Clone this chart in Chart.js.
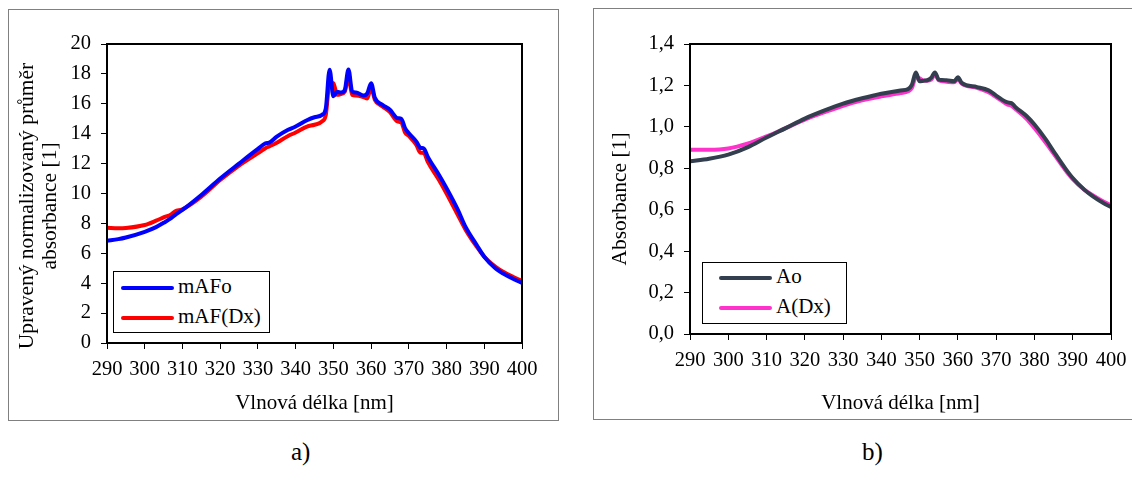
<!DOCTYPE html>
<html>
<head>
<meta charset="utf-8">
<script src="https://cdn.jsdelivr.net/npm/chart.js@4.4.1/dist/chart.umd.min.js"></script>
<style>
  html, body { margin:0; padding:0; background:#fff; width:1132px; height:492px; overflow:hidden; }
  body { position:relative; font-family:"Liberation Serif","Times New Roman",serif; }
  .frame { position:absolute; border:1px solid #808080; box-sizing:border-box; }
  .frame canvas { position:absolute; left:0; top:0; }
  .legend { position:absolute; border:1px solid #000; background:#fff; box-sizing:border-box; font-size:21px; color:#000; }
  .legend .sw { position:absolute; height:4px; border-radius:2px; }
  .legend .tx { position:absolute; white-space:nowrap; }
  .cap { position:absolute; font-size:25px; color:#000; }
</style>
</head>
<body>
<div class="frame" id="fa" style="left:8px;top:9px;width:551px;height:412px;"><canvas id="ca"></canvas></div>
<div class="frame" id="fb" style="left:593px;top:8px;width:560px;height:412px;"><canvas id="cb"></canvas></div>

<div class="legend" style="left:113px;top:271px;width:157px;height:62px;">
  <div class="sw" style="left:7px;top:14px;width:53px;background:#0000ff;"></div>
  <div class="tx" style="left:64px;top:3px;line-height:22px;">mAFo</div>
  <div class="sw" style="left:7px;top:44px;width:53px;background:#ff0000;"></div>
  <div class="tx" style="left:64px;top:33px;line-height:22px;">mAF(Dx)</div>
</div>
<div class="legend" style="left:702px;top:262px;width:145px;height:62px;">
  <div class="sw" style="left:16px;top:13px;width:53px;background:#333f4f;"></div>
  <div class="tx" style="left:73px;top:2px;line-height:22px;">Ao</div>
  <div class="sw" style="left:16px;top:43px;width:53px;background:#ff33cc;"></div>
  <div class="tx" style="left:73px;top:32px;line-height:22px;">A(Dx)</div>
</div>
<div class="cap" style="left:291px;top:438px;">a)</div>
<div class="cap" style="left:862px;top:438px;">b)</div>

<script>
// ---- data: panel a ----
const wavelengthsA = [290,293,295,300,303,305,307,308,310,315,320,325,330,332,333,335,338,340,343,345,347,348,349,350,351,352,353,354,355,356,358,359,360,361,363,365,367,368,369,370,372,373,374,375,378,380,383,385,388,390,393,395,398,400];
const mAFo    = [6.84,6.95,7.06,7.44,7.75,8.04,8.35,8.56,8.9,9.9,11.0,12.0,12.98,13.35,13.4,13.8,14.26,14.48,14.9,15.1,15.26,15.7,18.28,16.5,16.8,16.75,16.9,18.3,16.8,16.75,16.55,16.7,17.38,16.4,15.93,15.6,15.04,15.0,14.37,14.03,13.47,13.07,13.0,12.47,11.24,10.35,8.9,7.78,6.55,5.77,4.98,4.65,4.25,4.02];
const mAFDx   = [7.71,7.67,7.69,7.89,8.18,8.4,8.6,8.8,8.94,9.79,10.9,11.87,12.7,13.03,13.15,13.4,13.85,14.08,14.48,14.6,14.82,15.26,17.43,17.38,16.6,16.65,16.8,17.8,16.6,16.56,16.45,16.36,17.1,16.27,15.82,15.44,14.82,14.75,14.08,13.85,13.25,12.74,12.7,12.13,10.9,10.0,8.56,7.6,6.44,5.77,5.1,4.76,4.38,4.16];
// ---- data: panel b ----
const wavelengthsB = [290,295,300,305,310,315,320,325,330,335,340,345,347,348,349,350,351,352,353,354,355,357,359,360,361,365,368,370,373,374,375,378,380,383,385,388,390,393,395,398,400];
const Ao   = [0.834,0.846,0.866,0.901,0.949,0.994,1.04,1.078,1.112,1.138,1.16,1.176,1.183,1.204,1.263,1.22,1.223,1.225,1.236,1.263,1.228,1.225,1.22,1.239,1.212,1.192,1.176,1.151,1.118,1.115,1.096,1.051,1.011,0.938,0.882,0.801,0.753,0.697,0.668,0.632,0.613];
const ADx  = [0.89,0.89,0.896,0.919,0.954,0.994,1.035,1.07,1.102,1.128,1.147,1.163,1.172,1.188,1.241,1.234,1.223,1.223,1.228,1.252,1.225,1.218,1.215,1.231,1.209,1.188,1.167,1.144,1.107,1.102,1.086,1.038,0.994,0.922,0.871,0.793,0.748,0.697,0.673,0.64,0.621];
// ---- axis labels ----
const xTitle = 'Vlnová délka [nm]';
const yTitleA = ['Upravený normalizovaný průměr', 'absorbance [1]'];
const yTitleB = ['Absorbance [1]'];
const xRange = [290, 400];
const yRangeA = [0, 20];
const yRangeB = [0, 1.4];

const pts = (xs, ys) => xs.map((x, i) => ({x, y: ys[i]}));
const FONT = '"Liberation Serif","Times New Roman",serif';

const frameBox = {
  id: 'frameBox',
  afterDatasetsDraw(chart) {
    const {ctx, chartArea: a} = chart;
    ctx.save();
    ctx.strokeStyle = '#000';
    ctx.lineWidth = 2;
    ctx.strokeRect(a.left, a.top, a.right - a.left, a.bottom - a.top);
    ctx.restore();
  }
};
const yTitlePlugin = {
  id: 'yTitle',
  afterDraw(chart, args, opts) {
    const {ctx} = chart;
    ctx.save();
    ctx.font = opts.size + 'px ' + FONT;
    ctx.fillStyle = '#000';
    ctx.textAlign = 'center';
    ctx.textBaseline = 'middle';
    opts.lines.forEach((t, i) => {
      ctx.save();
      ctx.translate(opts.x + i * opts.lh, opts.y);
      ctx.rotate(-Math.PI / 2);
      ctx.fillText(t, 0, 0);
      ctx.restore();
    });
    ctx.restore();
  }
};

function makeChart(canvasId, w, h, area, datasets, yRange, yStep, yFmt, yTitleOpts, xTitlePad) {
  const cv = document.getElementById(canvasId);
  cv.width = w; cv.height = h;
  cv.style.width = w + 'px'; cv.style.height = h + 'px';
  return new Chart(cv, {
    type: 'line',
    data: { datasets },
    plugins: [frameBox, yTitlePlugin],
    options: {
      responsive: false,
      animation: false,
      events: [],
      layout: { padding: { left: 0, top: area.top, right: w - area.right, bottom: 0 } },
      elements: { point: { radius: 0 }, line: { cubicInterpolationMode: 'monotone', borderCapStyle: 'round', borderJoinStyle: 'round' } },
      plugins: {
        legend: { display: false },
        tooltip: { enabled: false },
        yTitle: yTitleOpts
      },
      scales: {
        x: {
          type: 'linear', min: xRange[0], max: xRange[1],
          afterFit: s => { s.height = h - area.bottom; },
          border: { display: true, color: '#000', width: 2 },
          grid: { display: true, drawOnChartArea: false, drawTicks: true, tickLength: 6, color: '#000', lineWidth: 1 },
          ticks: { stepSize: 10, autoSkip: false, maxRotation: 0, color: '#000', padding: 8, font: { family: FONT, size: 20.5 } },
          title: { display: true, text: xTitle, color: '#000', font: { family: FONT, size: 21 }, padding: { top: 0, bottom: xTitlePad } }
        },
        y: {
          type: 'linear', min: yRange[0], max: yRange[1],
          afterFit: s => { s.width = area.left; },
          border: { display: true, color: '#000', width: 2 },
          grid: { display: true, drawOnChartArea: false, drawTicks: true, tickLength: 6, color: '#000', lineWidth: 1 },
          ticks: { stepSize: yStep, color: '#000', padding: 10, font: { family: FONT, size: 20.5 }, callback: yFmt }
        }
      }
    }
  });
}

makeChart('ca', 549, 410, {left: 98, top: 34, right: 513, bottom: 333}, [
  { label: 'mAFo', data: pts(wavelengthsA, mAFo), borderColor: '#0000ff', borderWidth: 4 },
  { label: 'mAF(Dx)', data: pts(wavelengthsA, mAFDx), borderColor: '#ff0000', borderWidth: 4 }
], yRangeA, 2, v => String(v), { lines: yTitleA, x: 18, y: 196, lh: 23, size: 21.5 }, 4);

makeChart('cb', 558, 410, {left: 96, top: 35, right: 517, bottom: 325}, [
  { label: 'Ao', data: pts(wavelengthsB, Ao), borderColor: '#333f4f', borderWidth: 4 },
  { label: 'A(Dx)', data: pts(wavelengthsB, ADx), borderColor: '#ff33cc', borderWidth: 4 }
], yRangeB, 0.2, v => v.toFixed(1).replace('.', ','), { lines: yTitleB, x: 26, y: 190, lh: 23, size: 21.5 }, 3);
</script>
</body>
</html>
